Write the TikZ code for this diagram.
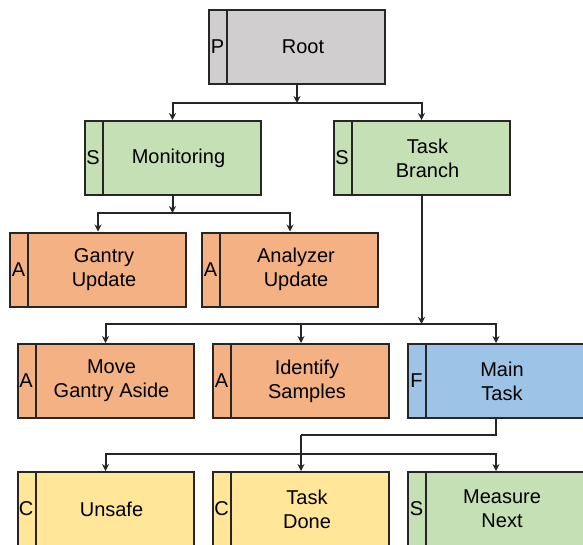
\documentclass[tikz,border=0pt]{standalone}
\usepackage{fontspec}
\setmainfont{Liberation Sans}
\usetikzlibrary{positioning,arrows.meta}

\definecolor{rootgrey}{HTML}{D0CECE}
\definecolor{seqgreen}{HTML}{C5E0B4}
\definecolor{actorange}{HTML}{F4B183}
\definecolor{fallblue}{HTML}{9DC3E6}
\definecolor{condyellow}{HTML}{FFE699}

\tikzset{
  box/.style={draw=black!85, line width=2pt, minimum width=176pt, minimum height=74pt, inner sep=0pt},
  tag/.style={inner sep=0pt},
  txt/.style={align=center, inner sep=0pt},
  wire/.style={draw=black!85, line width=2pt},
}

% box with a narrow letter strip on its left
\newcommand{\taskbox}[5]{%
  \node[box, fill=#5] (#1) at (#2) {};
  \draw[line width=2pt, black!85] ([xshift=19pt]#1.north west) -- ([xshift=19pt]#1.south west);
  \node[tag] (#1-tag) at ([xshift=9.5pt]#1.west) {#3};
  \node[txt] (#1-txt) at ([xshift=6pt]#1.center) {#4};
}

\begin{document}
\begin{tikzpicture}[x=1pt, y=-1pt, >={Stealth[length=7pt,width=7pt]},
  font=\fontsize{20}{24}\selectfont]

\useasboundingbox (0,0) rectangle (583,544);
\clip (0,0) rectangle (583,544);

\taskbox{root}{297,47}{P}{Root}{rootgrey}

\taskbox{mon}{172.5,158}{S}{Monitoring}{seqgreen}
\taskbox{branch}{421.5,158}{S}{Task\\Branch}{seqgreen}

\taskbox{gantry}{98,269.5}{A}{Gantry\\Update}{actorange}
\taskbox{analyzer}{290,269.5}{A}{Analyzer\\Update}{actorange}

\taskbox{move}{105.5,381}{A}{Move\\Gantry Aside}{actorange}
\taskbox{identify}{301,381}{A}{Identify\\Samples}{actorange}
\taskbox{main}{496,381}{F}{Main\\Task}{fallblue}

\taskbox{unsafe}{105.5,509}{C}{Unsafe}{condyellow}
\taskbox{done}{301,509}{C}{Task\\Done}{condyellow}
\taskbox{measure}{496,509}{S}{Measure\\Next}{seqgreen}

% split points
\coordinate (rootsplit) at (297,103);
\coordinate (monsplit) at (172.5,213);
\coordinate (branchsplit) at (421.5,324);
\coordinate (mainsplit) at (301,435);
\coordinate (lowsplit) at (301,454);

\draw[wire,->] (root) -- (rootsplit);
\draw[wire,->] (mon) -- (monsplit);
\draw[wire,->] (branch) -- (branchsplit);
\draw[wire] (main) |- (mainsplit);
\draw[wire,->] (mainsplit) -- (done);

\draw[wire,->] (rootsplit) -| (mon);
\draw[wire,->] (rootsplit) -| (branch);
\draw[wire,->] (monsplit) -| (gantry);
\draw[wire,->] (monsplit) -| (analyzer);
\draw[wire,->] (branchsplit) -| (move);
\draw[wire,->] (branchsplit) -| (identify);
\draw[wire,->] (branchsplit) -| (main);
\draw[wire,->] (lowsplit) -| (unsafe);
\draw[wire,->] (lowsplit) -| (measure);

\end{tikzpicture}
\end{document}
